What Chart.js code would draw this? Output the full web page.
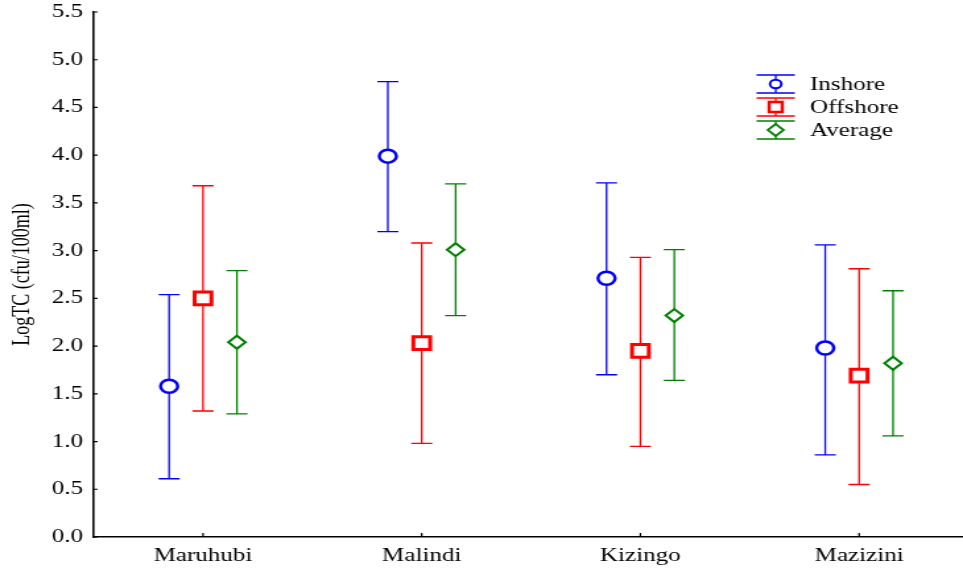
<!DOCTYPE html>
<html>
<head>
<meta charset="utf-8">
<script src="https://cdn.jsdelivr.net/npm/chart.js@4"></script>
<style>
  html, body { margin: 0; padding: 0; background: #fff; overflow: hidden; }
  #wrap { width: 730px; height: 572px; transform: scaleX(1.3192); transform-origin: 0 0; }
  canvas { display: block; }
</style>
</head>
<body>
<div id="wrap"><canvas id="c" width="730" height="572" style="width:730px;height:572px"></canvas></div>
<script>
// ---- data ----
const categories   = ['Maruhubi', 'Malindi', 'Kizingo', 'Mazizini'];
const inshoreMean  = [1.58, 3.99, 2.71, 1.98];
const inshoreLow   = [0.61, 3.20, 1.70, 0.86];
const inshoreHigh  = [2.54, 4.77, 3.71, 3.06];
const offshoreMean = [2.50, 2.03, 1.95, 1.69];
const offshoreLow  = [1.32, 0.98, 0.95, 0.55];
const offshoreHigh = [3.68, 3.08, 2.93, 2.81];
const averageMean  = [2.04, 3.01, 2.32, 1.82];
const averageLow   = [1.29, 2.32, 1.64, 1.06];
const averageHigh  = [2.79, 3.70, 3.01, 2.58];
const yTickValues  = [0, 0.5, 1, 1.5, 2, 2.5, 3, 3.5, 4, 4.5, 5, 5.5];
const yAxisTitle   = 'LogTC (cfu/100ml)';

const FONT = "'Liberation Serif', 'Times New Roman', serif";
const BLUE = '#0000ff', RED = '#ff0000', GREEN = '#008000';

function series(label, mean, low, high, dodge, color, style, radius, bw) {
  return {
    label,
    data: mean.map((v, i) => ({ x: i + 1 + dodge, y: v })),
    errLow: low, errHigh: high, dodge,
    showLine: false,
    pointStyle: style,
    pointRadius: radius,
    pointBorderWidth: bw,
    pointBorderColor: color,
    pointBackgroundColor: '#ffffff',
    borderColor: color,
    backgroundColor: '#ffffff'
  };
}

const datasets = [
  series('Inshore',  inshoreMean,  inshoreLow,  inshoreHigh,  -0.155, BLUE,  'circle',  6.5, 2.5),
  series('Offshore', offshoreMean, offshoreLow, offshoreHigh,  0,     RED,   'rect',    9,   3),
  series('Average',  averageMean,  averageLow,  averageHigh,   0.155, GREEN, 'rectRot', 6.5, 2)
];

const errorBars = {
  id: 'errorBars',
  beforeDatasetsDraw(chart) {
    const { ctx, scales: { x, y } } = chart;
    ctx.save();
    ctx.lineWidth = 1.3;
    chart.data.datasets.forEach(ds => {
      ctx.strokeStyle = ds.borderColor;
      ds.errLow.forEach((lo, i) => {
        const px = x.getPixelForValue(i + 1 + ds.dodge);
        const pLo = y.getPixelForValue(lo);
        const pHi = y.getPixelForValue(ds.errHigh[i]);
        const cap = 8;
        ctx.beginPath();
        ctx.moveTo(px, pLo); ctx.lineTo(px, pHi);
        ctx.moveTo(px - cap, pLo); ctx.lineTo(px + cap, pLo);
        ctx.moveTo(px - cap, pHi); ctx.lineTo(px + cap, pHi);
        ctx.stroke();
      });
    });
    ctx.restore();
  }
};

function drawMarker(ctx, style, cx, cy, r, color, bw) {
  ctx.save();
  ctx.strokeStyle = color; ctx.fillStyle = '#fff'; ctx.lineWidth = bw;
  ctx.beginPath();
  if (style === 'circle') {
    ctx.arc(cx, cy, r, 0, Math.PI * 2);
  } else if (style === 'rect') {
    const s = r * Math.SQRT1_2;
    ctx.rect(cx - s, cy - s, 2 * s, 2 * s);
  } else {
    ctx.moveTo(cx - r, cy); ctx.lineTo(cx, cy - r); ctx.lineTo(cx + r, cy); ctx.lineTo(cx, cy + r); ctx.closePath();
  }
  ctx.fill(); ctx.stroke();
  ctx.restore();
}

const decorations = {
  id: 'decorations',
  afterDraw(chart) {
    const { ctx, chartArea, scales: { x, y } } = chart;
    ctx.save();
    ctx.strokeStyle = '#000';
    ctx.lineWidth = 1.2;
    // inward tick marks
    ctx.beginPath();
    y.ticks.forEach(t => {
      const py = y.getPixelForValue(t.value);
      ctx.moveTo(chartArea.left, py); ctx.lineTo(chartArea.left + 3, py);
    });
    x.ticks.forEach(t => {
      const px = x.getPixelForValue(t.value);
      ctx.moveTo(px, chartArea.bottom); ctx.lineTo(px, chartArea.bottom - 4);
    });
    ctx.stroke();

    // legend
    const mx = 588, tx = 614, rows = [84, 107, 130];
    const legendR = [4.3, 7, 6];
    const legendBW = [2, 2.5, 1.8];
    ctx.font = '19px ' + FONT;
    ctx.textBaseline = 'middle';
    ctx.textAlign = 'left';
    chart.data.datasets.forEach((ds, i) => {
      const cy = rows[i];
      ctx.strokeStyle = ds.borderColor;
      ctx.lineWidth = 1.3;
      ctx.beginPath();
      ctx.moveTo(mx - 14.5, cy - 9); ctx.lineTo(mx + 14.5, cy - 9);
      ctx.moveTo(mx - 14.5, cy + 9); ctx.lineTo(mx + 14.5, cy + 9);
      ctx.moveTo(mx, cy - 9); ctx.lineTo(mx, cy + 9);
      ctx.stroke();
      drawMarker(ctx, ds.pointStyle, mx, cy, legendR[i], ds.borderColor, legendBW[i]);
      ctx.fillStyle = '#000';
      ctx.fillText(ds.label, tx, cy + 1);
    });
    ctx.restore();
  }
};

function zeroPad(s) { s.paddingLeft = 0; s.paddingRight = 0; s.paddingTop = 0; s.paddingBottom = 0; }

new Chart(document.getElementById('c'), {
  type: 'scatter',
  data: { datasets },
  options: {
    responsive: false,
    devicePixelRatio: 1,
    animation: false,
    layout: { autoPadding: false, padding: { top: 12, right: 0, bottom: 0, left: 0 } },
    plugins: { legend: { display: false }, tooltip: { enabled: false } },
    scales: {
      x: {
        type: 'linear',
        min: 0.5,
        max: 4.475,
        grid: { display: false, drawTicks: false },
        border: { display: true, color: '#000', width: 1.6 },
        afterBuildTicks: (axis) => { axis.ticks = categories.map((c, i) => ({ value: i + 1 })); },
        afterFit: (s) => { s.height = 35; zeroPad(s); },
        ticks: {
          autoSkip: false, maxRotation: 0, padding: 8, color: '#000',
          font: { family: FONT, size: 19 },
          callback: (v) => categories[Math.round(v) - 1] || ''
        }
      },
      y: {
        type: 'linear',
        min: 0,
        max: 5.5,
        grid: { display: false, drawTicks: false },
        border: { display: true, color: '#000', width: 1.6 },
        afterBuildTicks: (axis) => { axis.ticks = yTickValues.map(v => ({ value: v })); },
        afterFit: (s) => { s.width = 71; zeroPad(s); },
        ticks: {
          padding: 8, color: '#000',
          font: { family: FONT, size: 19 },
          callback: (v) => Number(v).toFixed(1)
        },
        title: {
          display: true, text: yAxisTitle, color: '#000',
          font: { family: FONT, size: 18 },
          padding: { top: 6, bottom: 0 }
        }
      }
    }
  },
  plugins: [errorBars, decorations]
});
</script>
</body>
</html>
